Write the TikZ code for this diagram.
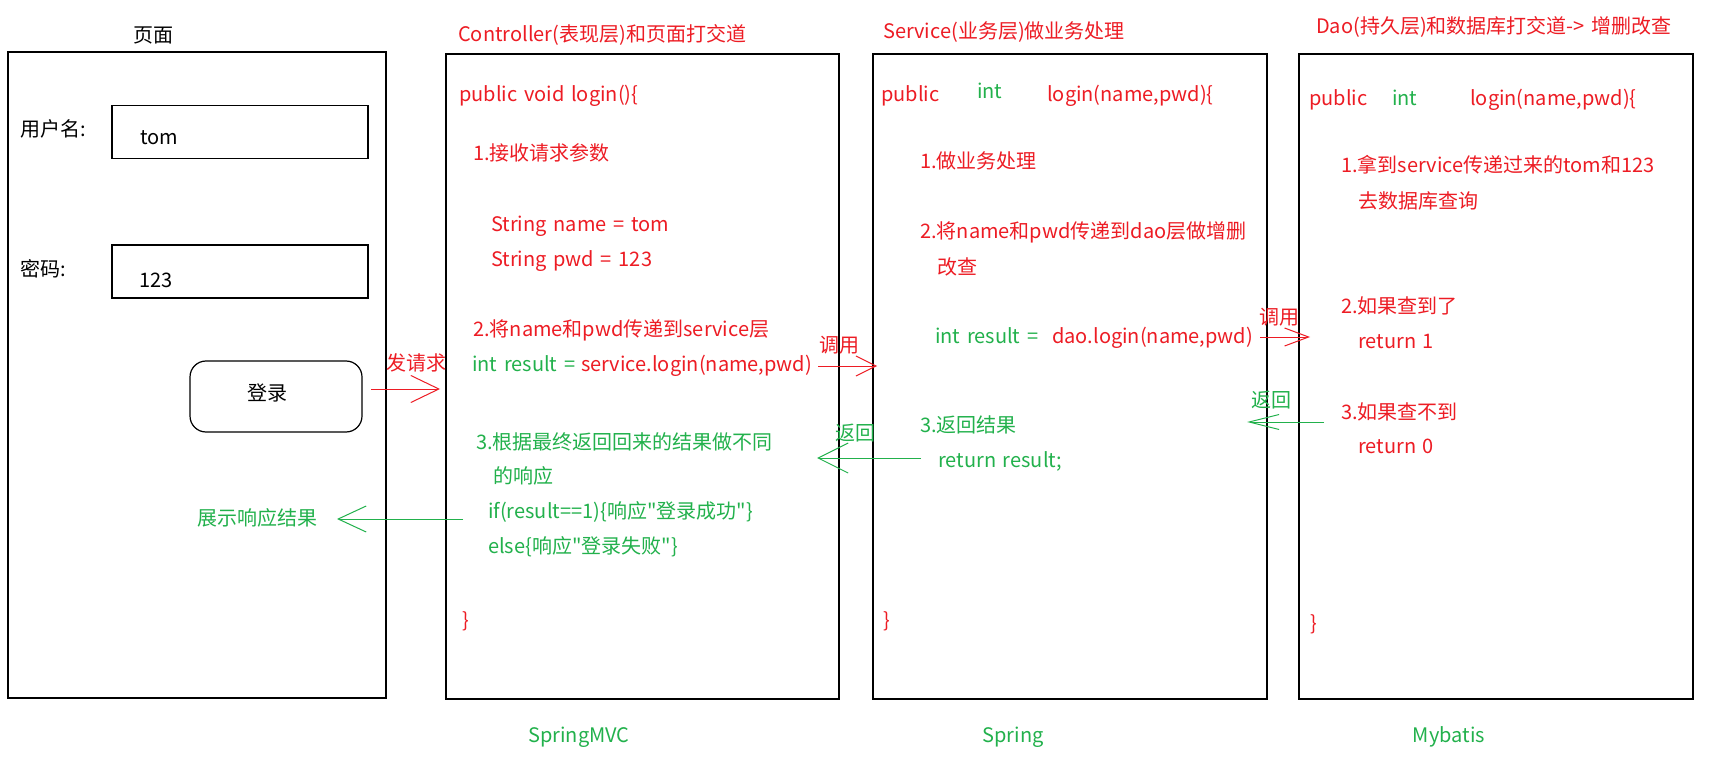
\documentclass[tikz,border=0pt]{standalone}
\usepackage{fontspec}
\setmainfont{Noto Sans CJK SC}[Ligatures=TeXOff, WordSpace=1.5]
\usetikzlibrary{arrows.meta}
\definecolor{pred}{RGB}{237,28,36}
\definecolor{pgreen}{RGB}{34,177,76}
\begin{document}
\begin{tikzpicture}[x=1pt,y=-1pt,font=\fontsize{20pt}{24pt}\selectfont,
  panel/.style={draw=black, line width=1.5pt, anchor=north west, inner sep=0pt, outer sep=0pt, minimum height=645pt},
  field/.style={draw=black, line width=1.5pt, anchor=north west, inner sep=0pt, minimum width=256pt, minimum height=53pt},
  txt/.style={anchor=west, inner sep=0pt, text height=16pt, text depth=2pt},
  ctxt/.style={anchor=center, inner sep=0pt, text height=16pt, text depth=2pt},
  rtxt/.style={txt, text=pred},
  gtxt/.style={txt, text=pgreen},
  redarrow/.style={draw=pred, line width=1pt},
  greenarrow/.style={draw=pgreen, line width=1pt}]
\useasboundingbox (0,0) rectangle (1721,762);
\fill[white] (0,0) rectangle (1721,762);

% ---------- panels ----------
\node[panel, minimum width=378pt, minimum height=646pt] (page) at (8,52) {};
\node[panel, minimum width=393pt] (ctrl) at (446,54) {};
\node[panel, minimum width=394pt] (serv) at (873,54) {};
\node[panel, minimum width=394pt] (dao) at (1299,54) {};

% ---------- titles ----------
\node[ctxt] (tpage) at (153,36) {页面};
\node[rtxt] (tctrl) at (458,35) {Controller(表现层)和页面打交道};
\node[rtxt] (tserv) at (883,32) {Service(业务层)做业务处理};
\node[rtxt] (tdao) at (1316,27) {Dao(持久层)和数据库打交道-> 增删改查};

% ---------- page ----------
\node[txt] (luser) at (20,130) {用户名:};
\node[field] (f1) at (111,105) {};
\node[txt] (vuser) at (140,138) {tom};
\node[txt] (lpwd) at (20,269) {密码:};
\node[field] (f2) at (111,244) {};
\node[txt] (vpwd) at (139,280) {123};
\node[draw=black, line width=1.2pt, rounded corners=16pt, minimum width=172pt, minimum height=71pt, inner sep=0pt] (btn) at (276,396.5) {};
\node[ctxt] (btnt) at (267,393) {登录};

% ---------- controller ----------
\node[rtxt] (c0) at (459,95) {public void login()\{};
\node[rtxt] (c1) at (473,154) {1.接收请求参数};
\node[rtxt] (c2) at (491,224) {String name = tom};
\node[rtxt] (c3) at (491,259) {String pwd = 123};
\node[rtxt] (c4) at (473,329) {2.将name和pwd传递到service层};
\node[gtxt] (c5a) at (472,364) {int result =};
\node[rtxt] (c5b) at (581,364) {service.login(name,pwd)};
\node[gtxt] (c6) at (476,442) {3.根据最终返回回来的结果做不同};
\node[gtxt] (c7) at (493,476) {的响应};
\node[gtxt] (c8) at (488,511) {if(result==1)\{响应"登录成功"\}};
\node[gtxt] (c9) at (488,546) {else\{响应"登录失败"\}};
\node[rtxt] (c10) at (462,620) {\}};
\node[ctxt, text=pgreen] (fmvc) at (579,735) {SpringMVC};

% ---------- service ----------
\node[rtxt] (s0a) at (881,95) {public};
\node[gtxt] (s0b) at (977,92) {int};
\node[rtxt] (s0c) at (1047,95) {login(name,pwd)\{};
\node[rtxt] (s1) at (920,162) {1.做业务处理};
\node[rtxt] (s2) at (920,232) {2.将name和pwd传递到dao层做增删};
\node[rtxt] (s3) at (937,267) {改查};
\node[gtxt] (s4a) at (935,336) {int result =};
\node[rtxt] (s4b) at (1052,336) {dao.login(name,pwd)};
\node[gtxt] (s5) at (920,425) {3.返回结果};
\node[gtxt] (s6) at (938,460) {return result;};
\node[rtxt] (s7) at (883,620) {\}};
\node[ctxt, text=pgreen] (fspring) at (1013,735) {Spring};

% ---------- dao ----------
\node[rtxt] (d0a) at (1309,99) {public};
\node[gtxt] (d0b) at (1392,99) {int};
\node[rtxt] (d0c) at (1470,99) {login(name,pwd)\{};
\node[rtxt] (d1) at (1341,166) {1.拿到service传递过来的tom和123};
\node[rtxt] (d2) at (1358,202) {去数据库查询};
\node[rtxt] (d3) at (1341,306) {2.如果查到了};
\node[rtxt] (d4) at (1358,341) {return 1};
\node[rtxt] (d5) at (1341,412) {3.如果查不到};
\node[rtxt] (d6) at (1358,446) {return 0};
\node[rtxt] (d7) at (1310,623) {\}};
\node[ctxt, text=pgreen] (fmyb) at (1449,735) {Mybatis};

% ---------- arrows ----------
\coordinate (a1s) at (371,389);
\coordinate (a1e) at (440,389);
\draw[redarrow, -{Straight Barb[length=28pt,width=27pt]}] (a1s) -- (a1e);
\node[rtxt] (l1) at (386,363) {发请求};

\coordinate (a2s) at (818,366);
\coordinate (a2e) at (877,366);
\draw[redarrow, -{Straight Barb[length=20pt,width=20pt]}] (a2s) -- (a2e);
\node[rtxt] (l2) at (819,345) {调用};

\coordinate (a3s) at (1260,337);
\coordinate (a3e) at (1310,337);
\draw[redarrow, -{Straight Barb[length=24pt,width=18pt]}] (a3s) -- (a3e);
\node[rtxt] (l3) at (1259,317) {调用};

\coordinate (a4s) at (1324,422);
\coordinate (a4e) at (1247,422);
\draw[greenarrow, -{Straight Barb[length=30pt,width=15pt]}] (a4s) -- (a4e);
\node[gtxt] (l4) at (1251,400) {返回};

\coordinate (a5s) at (921,458);
\coordinate (a5e) at (817,458);
\draw[greenarrow, -{Straight Barb[length=30pt,width=30pt]}] (a5s) -- (a5e);
\node[gtxt] (l5) at (835,433) {返回};

\coordinate (a6s) at (463,519);
\coordinate (a6e) at (337,519);
\draw[greenarrow, -{Straight Barb[length=28pt,width=26pt]}] (a6s) -- (a6e);
\node[gtxt] (l6) at (197,518) {展示响应结果};
\end{tikzpicture}
\end{document}
